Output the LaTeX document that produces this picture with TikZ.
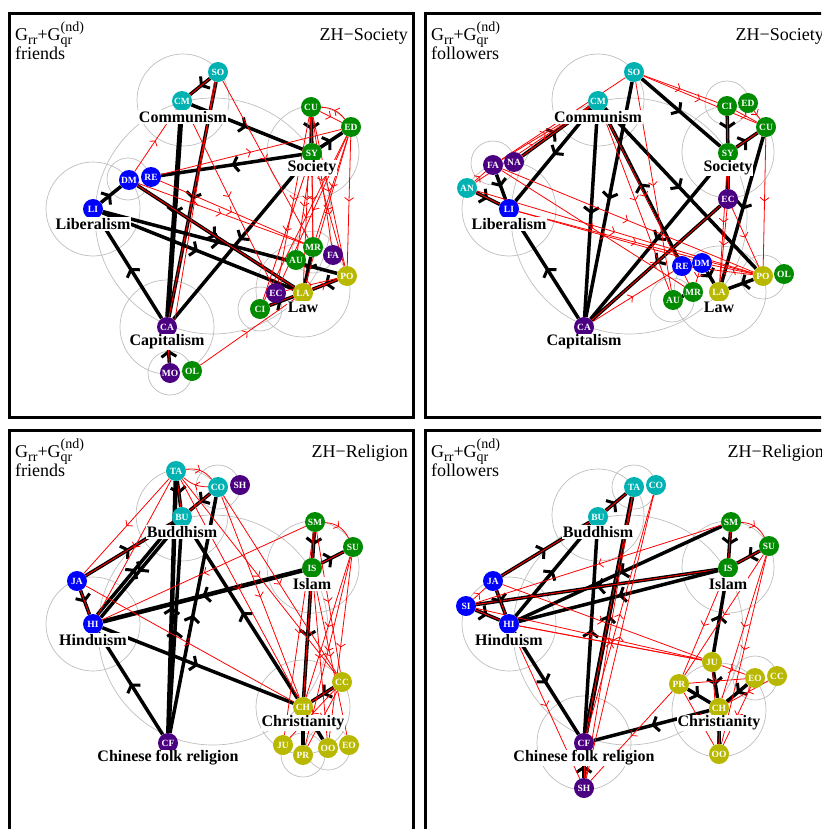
\documentclass[tikz,border=0pt]{standalone}
\usepackage{fontspec}
\setmainfont{Liberation Serif}
\usetikzlibrary{arrows.meta,decorations.markings}
\pgfdeclarelayer{circ}
\pgfdeclarelayer{edge}
\pgfsetlayers{circ,edge,main}
\definecolor{cyn}{RGB}{0,178,178}
\definecolor{blu}{RGB}{0,0,255}
\definecolor{grn}{RGB}{0,139,0}
\definecolor{pur}{RGB}{75,0,130}
\definecolor{olv}{RGB}{184,184,0}
\definecolor{gry}{RGB}{190,190,190}
\newcommand\hdsub[1]{\raisebox{-4pt}{\fontsize{14}{14}\selectfont #1}}
\newcommand\hdss[2]{\rlap{\raisebox{-4pt}{\fontsize{14}{14}\selectfont #1}}\raisebox{9pt}{\fontsize{14}{14}\selectfont #2}}
\tikzset{
 nd/.style={circle, minimum size=20pt, inner sep=0pt, text=white, font=\fontsize{9.5}{9.5}\selectfont\bfseries},
 ncy/.style={nd, fill=cyn}, nbl/.style={nd, fill=blu}, ngr/.style={nd, fill=grn},
 npu/.style={nd, fill=pur}, nol/.style={nd, fill=olv},
 lab/.style={fill=white, inner sep=1pt, font=\fontsize{16}{16}\selectfont\bfseries},
 ttl/.style={inner sep=0pt, font=\fontsize{18}{18}\selectfont},
 gc/.style={draw=gry, line width=0.7pt},
 frm/.style={draw=black, line width=3pt},
 bk/.style={draw=black, line width=3.5pt, postaction={decorate}, decoration={markings, mark=at position 0.5 with {\arrow{Straight Barb[length=5pt,width=15pt,line width=3pt]}}}},
 rd/.style={draw=red, line width=0.8pt, postaction={decorate}, decoration={markings, mark=at position 0.5 with {\arrow{Straight Barb[length=3.5pt,width=9pt,line width=0.8pt]}}}},
 rl/.style={draw=red, line width=0.9pt},
}
\begin{document}
\begin{tikzpicture}[x=1pt,y=-1pt]
\useasboundingbox (0,0) rectangle (821,829);
\clip (0,0) rectangle (821,829);
% frames
\draw[frm] (9,14) rectangle (413,417);
\draw[frm] (425,14) rectangle (840,417);
\draw[frm] (9,430) rectangle (413,845);
\draw[frm] (425,430) rectangle (840,845);
% headers
\node[ttl, anchor=base west] (aH) at (15,41) {G\hdsub{rr}+G\hdss{qr}{(nd)}};
\node[ttl, anchor=base west] (aH2) at (15,60) {friends};
\node[ttl, anchor=base east] (aT) at (408,41) {ZH−Society};
\node[ttl, anchor=base west] (bH) at (431,41) {G\hdsub{rr}+G\hdss{qr}{(nd)}};
\node[ttl, anchor=base west] (bH2) at (431,60) {followers};
\node[ttl, anchor=base east] (bT) at (824,41) {ZH−Society};
\node[ttl, anchor=base west] (cH) at (15,457) {G\hdsub{rr}+G\hdss{qr}{(nd)}};
\node[ttl, anchor=base west] (cH2) at (15,476) {friends};
\node[ttl, anchor=base east] (cT) at (408,457) {ZH−Religion};
\node[ttl, anchor=base west] (dH) at (431,457) {G\hdsub{rr}+G\hdss{qr}{(nd)}};
\node[ttl, anchor=base west] (dH2) at (431,476) {followers};
\node[ttl, anchor=base east] (dT) at (824,457) {ZH−Religion};

% ================= panel 1 =================
\node[ncy] (aSO) at (218,72) {SO};
\node[ncy] (aCM) at (182,101) {CM};
\node[ngr] (aCU) at (311,107) {CU};
\node[ngr] (aED) at (351,127) {ED};
\node[ngr] (aSY) at (312,153) {SY};
\node[nbl] (aDM) at (129,180) {DM};
\node[nbl] (aRE) at (151,177) {RE};
\node[nbl] (aLI) at (93,209) {LI};
\node[ngr] (aMR) at (313,247) {MR};
\node[npu] (aFA) at (333,255) {FA};
\node[ngr] (aAU) at (296,260) {AU};
\node[nol] (aPO) at (347,276) {PO};
\node[npu] (aEC) at (276,293) {EC};
\node[nol] (aLA) at (303,293) {LA};
\node[ngr] (aCI) at (260,309) {CI};
\node[npu] (aCA) at (167,327) {CA};
\node[npu] (aMO) at (170,373) {MO};
\node[ngr] (aOL) at (192,371) {OL};
\node[lab] (aLcom) at (183,117) {Communism};
\node[lab] (aLsoc) at (312,168) {Society};
\node[lab] (aLlib) at (93,224) {Liberalism};
\node[lab] (aLlaw) at (303,307) {Law};
\node[lab] (aLcap) at (167,342) {Capitalism};
\begin{pgfonlayer}{circ}
\draw[gc] (213,216) circle[radius=118];
\draw[gc] (183,100) circle[radius=46];
\draw[gc] (313,152) circle[radius=46];
\draw[gc] (93,209) circle[radius=47];
\draw[gc] (128,179) circle[radius=21];
\draw[gc] (303,290) circle[radius=47];
\draw[gc] (313,252) circle[radius=21];
\draw[gc] (260,309) circle[radius=22];
\draw[gc] (167,327) circle[radius=47];
\draw[gc] (170,373) circle[radius=22];
\end{pgfonlayer}
\begin{pgfonlayer}{edge}
\draw[bk] (aSO) -- (aCM); \draw[rl] (aSO) -- (aCM);
\draw[bk] (aCM) -- (aSY);
\draw[bk] (aSY) -- (aRE);
\draw[bk] (aSY) -- (aED);
\draw[bk] (aCU) -- (aSY); \draw[rl] (aCU) -- (aSY);
\draw[bk] (aLI) -- (aDM);
\draw[bk] (aCA) -- (aLI);
\draw[bk, line width=5pt] (aCM) -- (aCA);
\draw[bk] (aSO) -- (aCA); \draw[rl] (aSO) -- (aCA);
\draw[bk] (aSY) -- (aCA);
\draw[bk] (aLI) -- (aPO);
\draw[bk] (aLI) -- (aLA);
\draw[bk] (aDM) -- (aLA); \draw[rl] (aDM) -- (aLA);
\draw[bk] (aMR) -- (aLA);
\draw[bk] (aPO) -- (aLA);
\draw[bk] (aCI) -- (aLA);
\draw[bk] (aMO) -- (aCA); \draw[rl] (aMO) -- (aCA);
\draw[rd] (aSO) -- (aMR);
\draw[rd] (aCM) -- (aEC);
\draw[rd] (aDM) -- (aCM);
\draw[rd] (aRE) -- (aED);
\draw[rd] (aDM) -- (aMR);
\draw[rd] (aRE) -- (aMR);
\draw[rd] (aOL) -- (aLA);
\draw[rd] (aCA.40) -- (aSO.250);
\draw[rd] (aCU) -- (aLA);
\draw[rd] (aCU) -- (aEC);
\draw[rd] (aED) -- (aLA);
\draw[rd] (aED) -- (aPO);
\draw[rd] (aSY) -- (aAU);
\draw[rd] (aSY) -- (aCI);
\draw[rd] (aCU) -- (aMR);
\draw[rd] (aED) -- (aMR);
\draw[rd] (aSY) -- (aPO);
\draw[rd] (aED) -- (aCI);
\draw[rd] (aCU) -- (aFA);
\draw[rd] (aED) -- (aEC);
\draw[rd] (aCU) -- (aPO);
\draw[rd] (aCU) -- (aED);
\draw[rd] (aED) to[bend right=25] (aCU);
\draw[rd] (aCI) -- (aPO);
\draw[rd] (aEC) -- (aPO);
\draw[rd] (aLA) -- (aPO);
\draw[rd] (aSY) -- (aMR);
\end{pgfonlayer}

% ================= panel 2 =================
\node[ncy] (bSO) at (634,72) {SO};
\node[ncy] (bCM) at (598,101) {CM};
\node[ngr] (bED) at (748,103) {ED};
\node[ngr] (bCI) at (727,106) {CI};
\node[ngr] (bCU) at (766,127) {CU};
\node[ngr] (bSY) at (728,153) {SY};
\node[npu] (bEC) at (728,199) {EC};
\node[npu] (bFA) at (493,165) {FA};
\node[npu] (bNA) at (514,162) {NA};
\node[ncy] (bAN) at (467,188) {AN};
\node[nbl] (bLI) at (509,209) {LI};
\node[nbl] (bRE) at (682,266) {RE};
\node[nbl] (bDM) at (702,263) {DM};
\node[ngr] (bAU) at (673,300) {AU};
\node[ngr] (bMR) at (693,292) {MR};
\node[nol] (bLA) at (719,292) {LA};
\node[nol] (bPO) at (763,276) {PO};
\node[ngr] (bOL) at (784,274) {OL};
\node[npu] (bCA) at (584,327) {CA};
\node[lab] (bLcom) at (598,117) {Communism};
\node[lab] (bLsoc) at (728,168) {Society};
\node[lab] (bLlib) at (509,224) {Liberalism};
\node[lab] (bLlaw) at (719,307) {Law};
\node[lab] (bLcap) at (584,342) {Capitalism};
\begin{pgfonlayer}{circ}
\draw[gc] (629,216) circle[radius=118];
\draw[gc] (598,100) circle[radius=46];
\draw[gc] (728,152) circle[radius=46];
\draw[gc] (727,103) circle[radius=22];
\draw[gc] (509,209) circle[radius=47];
\draw[gc] (493,163) circle[radius=22];
\draw[gc] (720,292) circle[radius=46];
\draw[gc] (672,300) circle[radius=22];
\draw[gc] (763,277) circle[radius=22];
\end{pgfonlayer}
\begin{pgfonlayer}{edge}
\draw[bk] (bSO) -- (bSY);
\draw[bk] (bCM) -- (bLI);
\draw[bk] (bCM) -- (bCA);
\draw[bk] (bSO) -- (bCA);
\draw[bk] (bRE) -- (bCM);
\draw[bk] (bCM) -- (bPO);
\draw[bk] (bCA) -- (bLI);
\draw[bk] (bSY) -- (bCA);
\draw[bk] (bEC) -- (bCA);
\draw[bk] (bCU) -- (bLA);
\draw[bk] (bCI) -- (bSY); \draw[rl] (bCI) -- (bSY);
\draw[bk] (bSY) -- (bCU); \draw[rl] (bSY) -- (bCU);
\draw[bk] (bSY) -- (bEC); \draw[rl] (bSY) -- (bEC);
\draw[bk] (bFA) -- (bLI);
\draw[bk] (bAN) -- (bLI); \draw[rl] (bAN) -- (bLI);
\draw[bk] (bNA) -- (bCM); \draw[rl] (bNA) -- (bCM);
\draw[bk] (bDM) -- (bLA);
\draw[bk] (bPO) -- (bLA);
\draw[bk] (bAU) -- (bMR);
\draw[rd] (bSO) -- (bCU);
\draw[rd] (bSO) -- (bCI);
\draw[rd] (bSO) -- (bAU);
\draw[rd] (bFA) -- (bSO);
\draw[rd] (bAN) -- (bCM);
\draw[rd] (bFA) -- (bCM);
\draw[rd] (bFA) -- (bPO);
\draw[rd] (bAN) -- (bPO);
\draw[rd] (bLI) -- (bPO);
\draw[rd] (bLI) -- (bDM);
\draw[rd] (bFA) -- (bMR);
\draw[rd] (bAN) -- (bFA);
\draw[rd] (bCA) -- (bEC);
\draw[rd] (bCA) -- (bRE);
\draw[rd] (bEC) -- (bLA);
\draw[rd] (bEC) -- (bPO);
\draw[rd] (bCU) -- (bPO);
\draw[rd] (bCM) -- (bAU);
\draw[rd] (bCM) -- (bMR);
\draw[rd] (bCI) -- (bCU);
\draw[rd] (bED) -- (bCU);
\draw[rd] (bPO) -- (bDM);
\draw[rd] (bPO) -- (bRE);
\draw[rd] (bSY) -- (bLA);
\draw[rd] (bDM) -- (bMR);
\end{pgfonlayer}

% ================= panel 3 =================
\node[ncy] (cTA) at (176,471) {TA};
\node[ncy] (cCO) at (218,487) {CO};
\node[npu] (cSH) at (240,485) {SH};
\node[ncy] (cBU) at (182,517) {BU};
\node[ngr] (cSM) at (315,522) {SM};
\node[ngr] (cSU) at (353,547) {SU};
\node[ngr] (cIS) at (312,568) {IS};
\node[nbl] (cJA) at (77,581) {JA};
\node[nbl] (cHI) at (93,624) {HI};
\node[nol] (cCC) at (342,682) {CC};
\node[nol] (cCH) at (303,707) {CH};
\node[nol] (cJU) at (283,745) {JU};
\node[nol] (cPR) at (303,755) {PR};
\node[nol] (cOO) at (328,748) {OO};
\node[nol] (cEO) at (349,745) {EO};
\node[npu] (cCF) at (168,743) {CF};
\node[lab] (cLbud) at (182,532) {Buddhism};
\node[lab] (cLisl) at (312,584) {Islam};
\node[lab] (cLhin) at (93,640) {Hinduism};
\node[lab] (cLchr) at (303,723) {Christianity};
\node[lab] (cLcfr) at (168,758) {Chinese folk religion};
\begin{pgfonlayer}{circ}
\draw[gc] (213,630) circle[radius=115];
\draw[gc] (182,515) circle[radius=46];
\draw[gc] (218,487) circle[radius=22];
\draw[gc] (313,567) circle[radius=46];
\draw[gc] (93,624) circle[radius=47];
\draw[gc] (303,707) circle[radius=47];
\draw[gc] (303,755) circle[radius=22];
\draw[gc] (328,748) circle[radius=22];
\end{pgfonlayer}
\begin{pgfonlayer}{edge}
\draw[bk] (cTA) -- (cBU); \draw[rl] (cTA) -- (cBU);
\draw[bk] (cCO) -- (cBU); \draw[rl] (cCO) -- (cBU);
\draw[bk, line width=4.5pt] (cCF) -- (cTA);
\draw[bk] (cCF) -- (cBU);
\draw[bk] (cCF) -- (cCO);
\draw[bk] (cJA) -- (cBU); \draw[rl] (cJA) -- (cBU);
\draw[bk] (cBU.240) -- (cHI.40);
\draw[bk] (cHI.65) -- (cBU.215);
\draw[bk, line width=4.5pt] (cIS) -- (cHI);
\draw[bk] (cCH) -- (cBU);
\draw[bk] (cHI) -- (cCH);
\draw[bk] (cCF) -- (cHI);
\draw[bk] (cJA) -- (cHI); \draw[rl] (cJA) -- (cHI);
\draw[bk] (cIS) -- (cCH); \draw[rl] (cIS) -- (cCH);
\draw[bk] (cSM) -- (cIS); \draw[rl] (cSM) -- (cIS);
\draw[bk] (cIS) -- (cSU); \draw[rl] (cIS) -- (cSU);
\draw[bk] (cCC) -- (cCH); \draw[rl] (cCC) -- (cCH);
\draw[bk] (cCH) -- (cPR);
\draw[bk] (cCH) -- (cOO);
\draw[rd] (cTA) -- (cJA);
\draw[rd] (cTA) -- (cHI);
\draw[rd] (cTA) to[bend left=30] (cCO);
\draw[rd] (cCO) to[bend left=20] (cTA);
\draw[rd] (cCO) -- (cCH);
\draw[rd] (cCO) -- (cCC);
\draw[rd] (cTA) -- (cCH);
\draw[rd] (cTA) -- (cCC);
\draw[rd] (cSM) -- (cHI);
\draw[rd] (cJA) -- (cCH);
\draw[rd] (cSU) -- (cCH);
\draw[rd] (cSU) -- (cPR);
\draw[rd] (cSU) -- (cOO);
\draw[rd] (cSM) -- (cCC);
\draw[rd] (cSM) -- (cJU);
\draw[rd] (cIS) -- (cEO);
\draw[rd] (cSM) to[bend left=30] (cSU);
\draw[rd] (cCC) -- (cPR);
\draw[rd] (cCC) -- (cJU);
\draw[rd] (cIS) -- (cOO);
\end{pgfonlayer}

% ================= panel 4 =================
\node[ncy] (dTA) at (634,487) {TA};
\node[ncy] (dCO) at (656,485) {CO};
\node[ncy] (dBU) at (598,517) {BU};
\node[ngr] (dSM) at (731,522) {SM};
\node[ngr] (dSU) at (769,546) {SU};
\node[ngr] (dIS) at (728,568) {IS};
\node[nbl] (dJA) at (493,581) {JA};
\node[nbl] (dSI) at (466,606) {SI};
\node[nbl] (dHI) at (509,624) {HI};
\node[nol] (dJU) at (712,662) {JU};
\node[nol] (dPR) at (679,684) {PR};
\node[nol] (dEO) at (755,678) {EO};
\node[nol] (dCC) at (777,676) {CC};
\node[nol] (dCH) at (719,708) {CH};
\node[nol] (dOO) at (719,754) {OO};
\node[npu] (dCF) at (584,743) {CF};
\node[npu] (dSH) at (584,788) {SH};
\node[lab] (dLbud) at (598,532) {Buddhism};
\node[lab] (dLisl) at (728,584) {Islam};
\node[lab] (dLhin) at (509,640) {Hinduism};
\node[lab] (dLchr) at (719,723) {Christianity};
\node[lab] (dLcfr) at (584,758) {Chinese folk religion};
\begin{pgfonlayer}{circ}
\draw[gc] (628,630) circle[radius=115];
\draw[gc] (598,515) circle[radius=46];
\draw[gc] (634,487) circle[radius=22];
\draw[gc] (728,567) circle[radius=46];
\draw[gc] (509,624) circle[radius=47];
\draw[gc] (719,710) circle[radius=47];
\draw[gc] (755,678) circle[radius=22];
\draw[gc] (584,743) circle[radius=47];
\end{pgfonlayer}
\begin{pgfonlayer}{edge}
\draw[bk] (dBU) -- (dTA); \draw[rl] (dBU) -- (dTA);
\draw[bk, line width=4.5pt] (dCF) -- (dTA); \draw[rl] (dCF) -- (dTA);
\draw[bk] (dJA) -- (dBU); \draw[rl] (dJA) -- (dBU);
\draw[bk] (dHI) -- (dBU);
\draw[bk] (dCF) -- (dBU);
\draw[bk] (dSM) -- (dHI);
\draw[bk] (dIS) -- (dSI); \draw[rl] (dIS) -- (dSI);
\draw[bk] (dIS) -- (dHI);
\draw[bk] (dSM) -- (dIS); \draw[rl] (dSM) -- (dIS);
\draw[bk] (dSU) -- (dIS); \draw[rl] (dSU) -- (dIS);
\draw[bk] (dSI) -- (dHI); \draw[rl] (dSI) -- (dHI);
\draw[bk] (dJA) -- (dHI); \draw[rl] (dJA) -- (dHI);
\draw[bk] (dHI) -- (dCF);
\draw[bk] (dCH) -- (dCF);
\draw[bk] (dJU) -- (dIS);
\draw[bk] (dPR) -- (dCH);
\draw[bk] (dEO) -- (dCH);
\draw[bk] (dJU) -- (dCH);
\draw[bk] (dCH) -- (dOO); \draw[rl] (dCH) -- (dOO);
\draw[bk] (dSH) -- (dCF); \draw[rl] (dSH) -- (dCF);
\draw[rd] (dSH) -- (dCO);
\draw[rd] (dSH) -- (dTA);
\draw[rd] (dCF) -- (dCO);
\draw[rd] (dHI) -- (dSH);
\draw[rd] (dJU) -- (dHI);
\draw[rd] (dJU) -- (dSI);
\draw[rd] (dJA) -- (dJU);
\draw[rd] (dSM) -- (dSI);
\draw[rd] (dSU) -- (dCH);
\draw[rd] (dSU) -- (dPR);
\draw[rd] (dSU) -- (dOO);
\draw[rd] (dIS) -- (dPR);
\draw[rd] (dSM) to[bend left=30] (dSU);
\draw[rd] (dJU) -- (dEO);
\draw[rd] (dPR) -- (dEO);
\draw[rd] (dPR) -- (dSH);
\draw[rd] (dSI) -- (dJA);
\draw[rd] (dCC) -- (dCH);
\draw[rd] (dEO) -- (dOO);
\draw[rd] (dPR) -- (dOO);
\draw[rd] (dJU) -- (dOO);
\draw[rd] (dHI) -- (dJU);
\end{pgfonlayer}
\end{tikzpicture}
\end{document}
